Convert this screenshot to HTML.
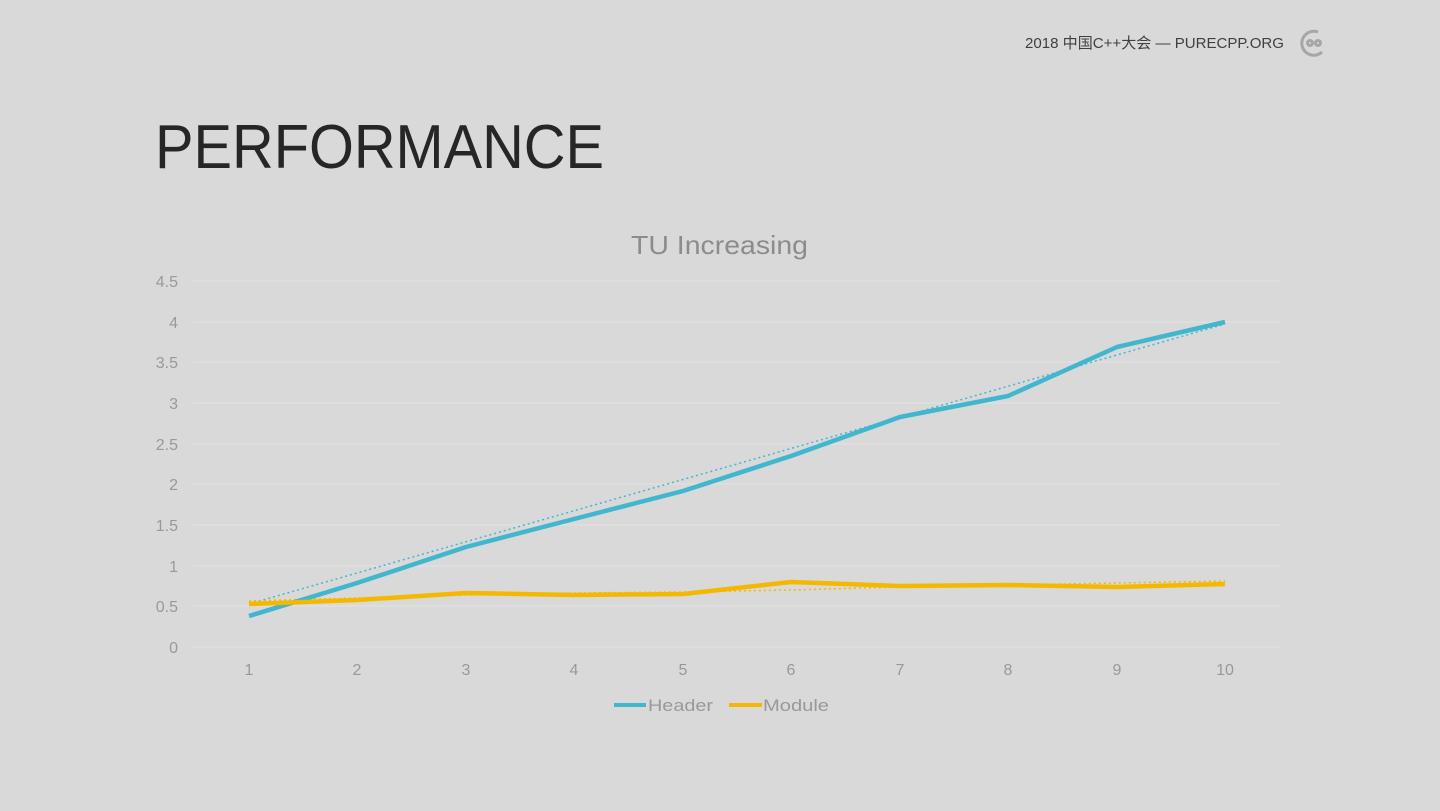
<!DOCTYPE html>
<html><head><meta charset="utf-8"><style>
body{margin:0;width:1440px;height:811px;background:#d9d9d9;overflow:hidden;font-family:"Liberation Sans","Noto Sans CJK SC",sans-serif;}
</style></head><body>
<svg width="1440" height="811" viewBox="0 0 1440 811" xmlns="http://www.w3.org/2000/svg" style="position:absolute;left:0;top:0">
<text x="1284" y="48" text-anchor="end" font-size="15" fill="#404040" font-family="Liberation Sans, Noto Sans CJK SC, sans-serif" textLength="259" lengthAdjust="spacingAndGlyphs">2018 中国C++大会 — PURECPP.ORG</text>
<g fill="none" stroke="#a6a6a6" stroke-width="3"><path d="M1318 32 A12 12 0 1 0 1322 52"/><circle cx="1310" cy="43" r="2.5"/><circle cx="1318" cy="43" r="2.5"/></g>
<text x="155" y="168" font-size="62" fill="#262626" font-family="Liberation Sans, sans-serif" textLength="449" lengthAdjust="spacingAndGlyphs">PERFORMANCE</text>
<text x="631" y="254" font-size="26" fill="#8c8c8c" textLength="177" lengthAdjust="spacingAndGlyphs">TU Increasing</text>
<g stroke="#e2e2e2" stroke-width="1">
<line x1="193" x2="1280" y1="281" y2="281"/><line x1="193" x2="1280" y1="322" y2="322"/><line x1="193" x2="1280" y1="362" y2="362"/><line x1="193" x2="1280" y1="403" y2="403"/><line x1="193" x2="1280" y1="444" y2="444"/><line x1="193" x2="1280" y1="484" y2="484"/><line x1="193" x2="1280" y1="525" y2="525"/><line x1="193" x2="1280" y1="566" y2="566"/><line x1="193" x2="1280" y1="606" y2="606"/><line x1="193" x2="1280" y1="647" y2="647"/>
</g>
<g font-size="16" fill="#999" text-anchor="end">
<text x="178" y="287">4.5</text><text x="178" y="328">4</text><text x="178" y="368">3.5</text><text x="178" y="409">3</text><text x="178" y="450">2.5</text><text x="178" y="490">2</text><text x="178" y="531">1.5</text><text x="178" y="572">1</text><text x="178" y="612">0.5</text><text x="178" y="653">0</text>
</g>
<g font-size="16" fill="#999" text-anchor="middle">
<text x="249" y="675">1</text><text x="357" y="675">2</text><text x="466" y="675">3</text><text x="574" y="675">4</text><text x="683" y="675">5</text><text x="791" y="675">6</text><text x="900" y="675">7</text><text x="1008" y="675">8</text><text x="1117" y="675">9</text><text x="1225" y="675">10</text>
</g>
<line x1="249" y1="604" x2="1225" y2="324" stroke="#45b6d0" stroke-width="1.5" stroke-dasharray="2 3"/>
<path d="M249 601 L357 598 L466 595 L574 593 L683 592 L791 590 L900 587 L1008 585 L1117 583 L1225 581" fill="none" stroke="#f5b800" stroke-width="1.5" stroke-dasharray="2 3"/>
<polyline points="249,616 357,583 466,547 574,519 683,491 791,456 900,417 1008,396 1117,347 1225,322" fill="none" stroke="#41b6cf" stroke-width="4.5" stroke-linejoin="round"/>
<polyline points="249,604 357,600 466,593 574,595 683,594 791,582 900,586 1008,585 1117,587 1225,584" fill="none" stroke="#f5b800" stroke-width="4.5" stroke-linejoin="round"/>
<line x1="614" x2="646" y1="705" y2="705" stroke="#41b6cf" stroke-width="4"/>
<text x="648" y="711" font-size="17" fill="#999" textLength="65" lengthAdjust="spacingAndGlyphs">Header</text>
<line x1="729" x2="762" y1="705" y2="705" stroke="#f5b800" stroke-width="4"/>
<text x="763" y="711" font-size="17" fill="#999" textLength="66" lengthAdjust="spacingAndGlyphs">Module</text>
</svg>
</body></html>
